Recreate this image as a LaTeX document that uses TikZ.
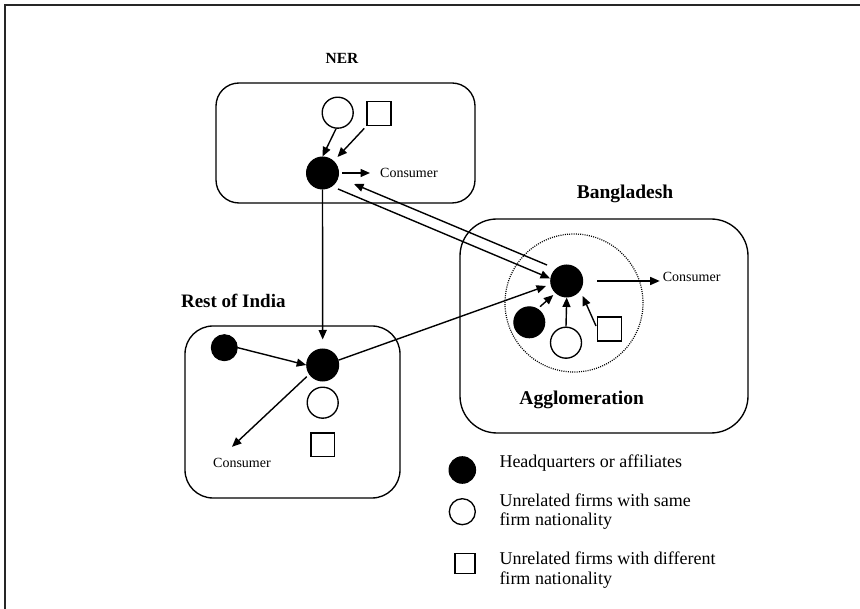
\documentclass[tikz,border=0pt]{standalone}
\usepackage{fontspec}
\setmainfont{Liberation Serif}
\usetikzlibrary{arrows.meta,calc}
\begin{document}
\begin{tikzpicture}[x=1pt,y=-1pt,
  region/.style={draw, line width=1.35pt, rounded corners=#1, inner sep=0},
  hq/.style={circle, draw=black, fill=black, line width=1pt, inner sep=0, minimum size=#1},
  same/.style={circle, draw=black, fill=white, line width=1.35pt, inner sep=0, minimum size=#1},
  diff/.style={rectangle, draw=black, fill=white, line width=1.35pt, inner sep=0, minimum size=#1},
  cluster/.style={circle, draw=black, line width=1.2pt, dash pattern=on 1pt off 1.2pt, inner sep=0, minimum size=#1},
  arr/.style={line width=1.4pt, -{Triangle[length=9.5pt,width=8pt]}},
  smalltxt/.style={font=\fontsize{14}{16}\selectfont, inner sep=0, anchor=base west},
  legtxt/.style={font=\fontsize{18}{20}\selectfont, inner sep=0, anchor=base west},
  title/.style={font=\bfseries\fontsize{#1}{#1}\selectfont, inner sep=0, anchor=base}
]
\useasboundingbox (0,0) rectangle (860,609);

% page frame (top and left edges)
\draw[line width=1.6pt, draw=black!85] (5,609) -- (5,5) -- (860,5);

% ---------- regions ----------
\node[region=23pt, minimum width=259, minimum height=120] (nerBox) at (345.5,143) {};
\node[region=28pt, minimum width=215, minimum height=172] (riBox) at (292.5,412) {};
\node[region=37pt, minimum width=288, minimum height=214] (bdBox) at (604,326) {};

\node[title=15.5] (nerLbl) at (342,63.3) {NER};
\node[title=19.5] (bdLbl) at (625,198.3) {Bangladesh};
\node[title=19] (riLbl) at (233.3,307.7) {Rest of India};
\node[title=19.5] (aggLbl) at (581.7,405) {Agglomeration};

% ---------- NER ----------
\node[same=31] (nerW) at (337.7,112.7) {};
\node[diff=24] (nerSq) at (379,113.5) {};
\node[hq=32] (nerB) at (322.5,173) {};
\node[smalltxt] (nerC) at (380,177.7) {Consumer};

\draw[arr] (nerW.-96) -- (nerB.north);
\draw[arr, shorten <=3pt] (nerSq.south west) -- ($(nerB)+(15,-16)$);
\draw[arr, shorten <=3pt, shorten >=10pt] (nerB.east) -- (nerB.east -| nerC.west);

% ---------- Rest of India ----------
\node[hq=26] (riS) at (224.3,347.7) {};
\node[hq=32] (riB) at (322.7,365) {};
\node[same=31] (riW) at (322.7,402.7) {};
\node[diff=23.5] (riSq) at (322.7,444.7) {};
\node[smalltxt] (riC) at (213,467.3) {Consumer};

\draw[arr] (riS.east) -- (riB.west);
\draw[arr] ($(riB)+(-16,11.7)$) -- ($(riC.north)+(-10,-11)$);

% ---------- Bangladesh ----------
\node[cluster=138] (agg) at (574,303) {};
\node[hq=32] (bdB) at (566.7,281) {};
\node[hq=31] (bdS) at (529.3,322.3) {};
\node[same=31] (bdW) at (566,342.7) {};
\node[diff=24] (bdSq) at (609.7,329) {};
\node[smalltxt] (bdC) at (662.7,281.7) {Consumer};

\draw[arr] ($(bdS)+(10.7,-15.6)$) -- ($(bdB)+(-13.4,14)$);
\draw[arr] (bdW.north) -- (bdB.south);
\draw[arr] ($(bdSq.west)+(-1,-3)$) -- ($(bdB)+(16,15)$);
\draw[arr, shorten <=14pt, shorten >=3pt] (bdB.east) -- (bdB.east -| bdC.west);

% ---------- links between regions ----------
\draw[arr, shorten >=9pt] (nerB.south) -- (riB.north);
\draw[arr] ($(nerB)+(15.5,16)$) -- ($(bdB)+(-16.7,-2.7)$);
\draw[arr] ($(bdB)+(-19.7,-16)$) -- ($(nerB)+(31.5,11)$);
\draw[arr] (riB.17) -- ($(bdB)+(-20.7,5)$);

% ---------- legend ----------
\node[hq=26.6] (lgB) at (462.3,470) {};
\node[same=26] (lgW) at (462.3,511.7) {};
\node[diff=20] (lgSq) at (465,563.3) {};
\node[legtxt] (lgB1) at (499.3,467.3) {Headquarters or affiliates};
\node[legtxt] (lgW1) at (499.3,506.7) {Unrelated firms with same};
\node[legtxt] (lgW2) at (499.3,525.3) {firm nationality};
\node[legtxt] (lgSq1) at (499.3,565) {Unrelated firms with different};
\node[legtxt] (lgSq2) at (499.3,584) {firm nationality};
\end{tikzpicture}
\end{document}
